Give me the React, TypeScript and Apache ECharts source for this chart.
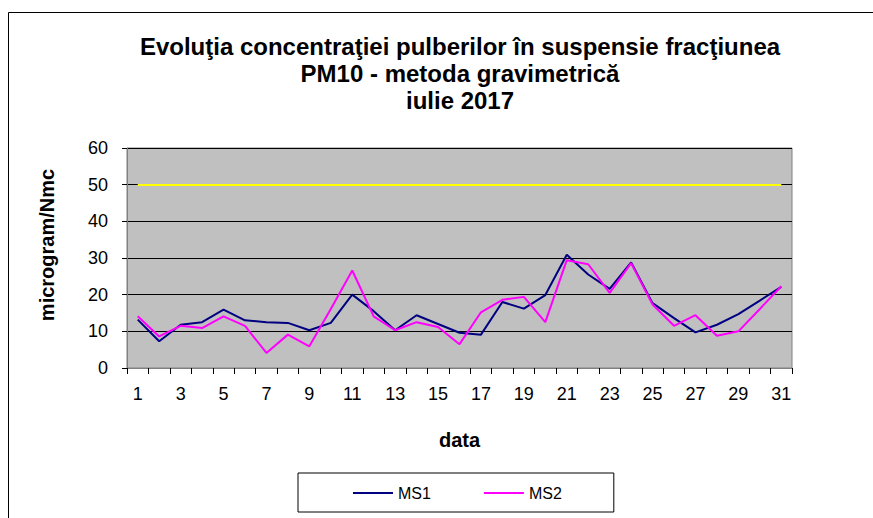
import React, { useEffect, useRef } from "react";
import * as echarts from "echarts";

const days = ["1","2","3","4","5","6","7","8","9","10","11","12","13","14","15","16","17","18","19","20","21","22","23","24","25","26","27","28","29","30","31"];
const ms1 = [13.2, 7.3, 11.8, 12.5, 15.9, 13.0, 12.5, 12.3, 10.3, 12.3, 20.0, 15.5, 10.3, 14.4, 12.0, 9.6, 9.1, 18.0, 16.2, 19.9, 30.9, 25.5, 21.6, 28.8, 17.7, 13.6, 9.7, 11.8, 14.7, 18.4, 22.1];
const ms2 = [14.1, 8.6, 11.5, 10.9, 14.1, 11.5, 4.1, 9.1, 5.9, 16.1, 26.6, 14.1, 10.3, 12.5, 11.2, 6.5, 15.2, 18.6, 19.4, 12.5, 29.4, 28.3, 20.5, 28.6, 17.3, 11.5, 14.4, 8.8, 10.0, 16.1, 22.3];
const limitValue = 50;
const titleLines = ["Evoluţia concentraţiei pulberilor în suspensie fracţiunea", "PM10 - metoda gravimetrică", "iulie 2017"];
const yName = "microgram/Nmc";
const xName = "data";

const FONT = "'Liberation Sans', Arial, sans-serif";

export default function App() {
  const ref = useRef<HTMLDivElement>(null);
  useEffect(() => {
    if (!ref.current) return;
    const chart = echarts.init(ref.current, undefined, { renderer: "svg" });
    chart.setOption({
      animation: false,
      backgroundColor: "#ffffff",
      textStyle: { fontFamily: FONT },
      graphic: [
        {
          type: "rect",
          shape: { x: 8.5, y: 12.5, width: 1000, height: 700 },
          style: { fill: "none", stroke: "#000", lineWidth: 1 },
          silent: true,
        },
        {
          type: "text",
          x: 460,
          y: 33,
          style: {
            text: titleLines.join("\n"),
            fontFamily: FONT,
            fontSize: 24,
            fontWeight: "bold",
            fill: "#000",
            textAlign: "center",
            textVerticalAlign: "top",
            lineHeight: 27,
          },
        },
      ],
      legend: {
        left: 298,
        top: 473,
        padding: [12, 52, 11, 55],
        borderColor: "#000",
        borderWidth: 1,
        itemGap: 53,
        itemWidth: 40,
        itemHeight: 14,
        textStyle: { fontSize: 16, color: "#000", fontFamily: FONT },
        data: [
          { name: "MS1", icon: "path://M0,6 L40,6 L40,8 L0,8 Z" },
          { name: "MS2", icon: "path://M0,6 L40,6 L40,8 L0,8 Z" },
        ],
      },
      grid: {
        left: 127,
        right: 81,
        top: 148,
        bottom: 150,
        show: true,
        backgroundColor: "#c0c0c0",
        borderColor: "#808080",
        borderWidth: 1,
      },
      xAxis: {
        type: "category",
        data: days,
        boundaryGap: true,
        name: xName,
        nameLocation: "middle",
        nameGap: 62,
        nameTextStyle: { fontSize: 20, fontWeight: "bold", color: "#000", fontFamily: FONT },
        axisLine: { lineStyle: { color: "#808080", width: 1 } },
        axisTick: { show: true, interval: 0, length: 6, lineStyle: { color: "#000" } },
        axisLabel: { interval: 1, fontSize: 18, color: "#000", margin: 17, fontFamily: FONT },
        splitLine: { show: false },
      },
      yAxis: {
        type: "value",
        min: 0,
        max: 60,
        interval: 10,
        name: yName,
        nameLocation: "middle",
        nameGap: 70,
        nameRotate: 90,
        nameTextStyle: { fontSize: 20, fontWeight: "bold", color: "#000", fontFamily: FONT, padding: [0, 0, 0, 26] },
        axisLine: { show: true, lineStyle: { color: "#808080", width: 1 } },
        axisTick: { show: true, length: 5, lineStyle: { color: "#000" } },
        axisLabel: { fontSize: 18, color: "#000", margin: 19, fontFamily: FONT },
        splitLine: { show: true, lineStyle: { color: "#000", width: 1 } },
      },
      series: [
        {
          name: "MS1",
          type: "line",
          data: ms1,
          symbol: "none",
          lineStyle: { color: "#000080", width: 2 },
          itemStyle: { color: "#000080" },
          z: 3,
          markLine: {
            silent: true,
            symbol: "none",
            label: { show: false },
            lineStyle: { color: "#ffff00", width: 2, type: "solid" },
            data: [[{ coord: [days[0], limitValue] }, { coord: [days[days.length - 1], limitValue] }]],
          },
        },
        {
          name: "MS2",
          type: "line",
          data: ms2,
          symbol: "none",
          lineStyle: { color: "#ff00ff", width: 2 },
          itemStyle: { color: "#ff00ff" },
          z: 4,
        },
      ],
    });
    return () => chart.dispose();
  }, []);
  return (
    <div
      ref={ref}
      style={{ position: "fixed", left: 0, top: 0, width: 873, height: 518 }}
    />
  );
}
